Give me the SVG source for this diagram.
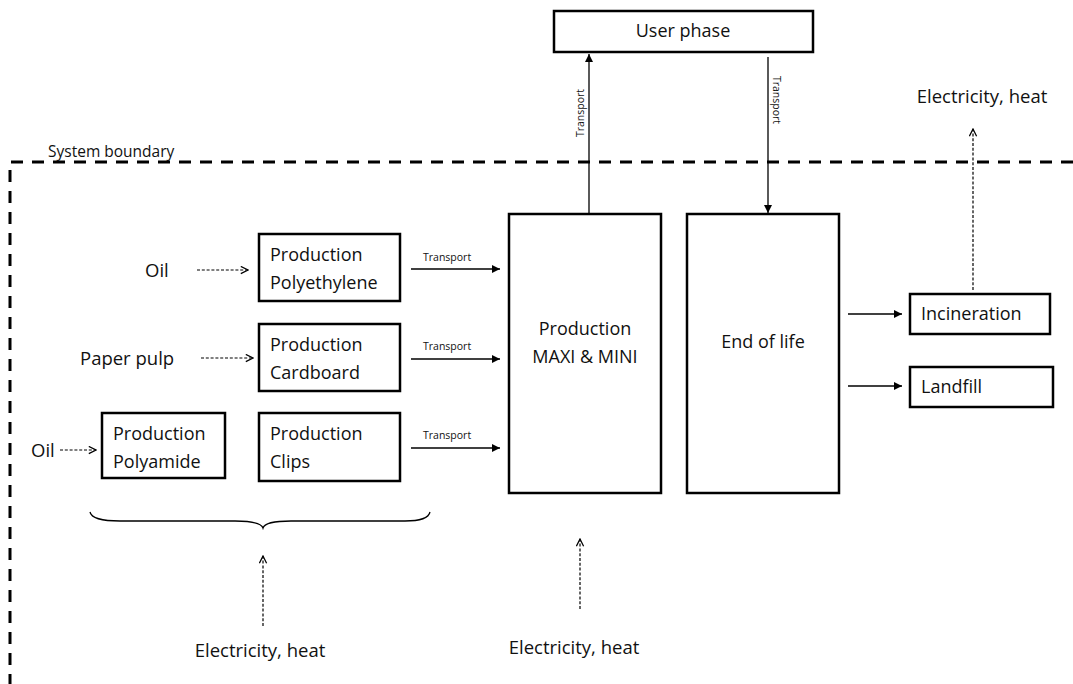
<svg xmlns="http://www.w3.org/2000/svg" width="1073" height="684" viewBox="0 0 1073 684">
  <defs>
    <marker id="solid" viewBox="0 0 10 10" refX="10" refY="5" markerWidth="8" markerHeight="8" markerUnits="userSpaceOnUse" orient="auto">
      <path d="M0,0 L10,5 L0,10 Z" fill="#000"/>
    </marker>
    <marker id="open" viewBox="0 0 10 10" refX="9" refY="5" markerWidth="9" markerHeight="9" markerUnits="userSpaceOnUse" orient="auto">
      <path d="M1,1 L9,5 L1,9" fill="none" stroke="#000" stroke-width="1.4"/>
    </marker>
  </defs>
  <style>
    text { font-family: "Open Sans", "Noto Sans", "Liberation Sans", sans-serif; fill: #111; }
    .lbl { font-size: 18px; }
    .big { font-size: 18.5px; }
    .sm { font-size: 10.5px; }
    .box { fill: #fff; stroke: #000; stroke-width: 2.5; }
    .flow { stroke: #000; stroke-width: 1.3; fill: none; marker-end: url(#solid); }
    .energy { stroke: #000; stroke-width: 1.2; fill: none; stroke-dasharray: 3 1.8; marker-end: url(#open); }
    .boundary { stroke: #000; stroke-width: 3; fill: none; stroke-dasharray: 12 9; }
  </style>
  <rect width="1073" height="684" fill="#fff"/>

  <!-- system boundary -->
  <g id="boundary">
    <path class="boundary" d="M1073,162 H10 V684"/>
    <text x="48" y="157" style="font-size:15.5px">System boundary</text>
  </g>

  <!-- connectors -->
  <g id="connectors">
    <line class="flow" x1="411" y1="269" x2="500" y2="269"/>
    <line class="flow" x1="411" y1="359" x2="500" y2="359"/>
    <line class="flow" x1="411" y1="448" x2="500" y2="448"/>
    <line class="flow" x1="589" y1="213" x2="589" y2="54"/>
    <line class="flow" x1="768" y1="57" x2="768" y2="213"/>
    <line class="flow" x1="848" y1="314" x2="902" y2="314"/>
    <line class="flow" x1="848" y1="386" x2="902" y2="386"/>
    <line class="energy" x1="197" y1="270" x2="248" y2="270"/>
    <line class="energy" x1="201" y1="358" x2="253" y2="358"/>
    <line class="energy" x1="60" y1="450" x2="96" y2="450"/>
    <line class="energy" x1="263" y1="626" x2="263" y2="556"/>
    <line class="energy" x1="580" y1="609" x2="580" y2="539"/>
    <line class="energy" x1="973" y1="290" x2="973" y2="129"/>
    <path d="M90,512 Q92,521 120,521 L235,521 Q261,521 263,528 Q265,521 291,521 L405,521 Q428,521 430,512" fill="none" stroke="#000" stroke-width="1.3"/>
    <text class="sm" x="423" y="261">Transport</text>
    <text class="sm" x="423" y="350">Transport</text>
    <text class="sm" x="423" y="439">Transport</text>
    <text class="sm" transform="translate(584,113) rotate(-90)" text-anchor="middle">Transport</text>
    <text class="sm" transform="translate(773,100) rotate(90)" text-anchor="middle">Transport</text>
  </g>

  <!-- external inputs and outputs -->
  <g id="inputs">
    <text class="big" x="145" y="277">Oil</text>
    <text class="big" x="80" y="365">Paper pulp</text>
    <text class="big" x="31" y="457">Oil</text>
    <text class="big" x="260" y="657" text-anchor="middle">Electricity, heat</text>
    <text class="big" x="574" y="654" text-anchor="middle">Electricity, heat</text>
    <text class="big" x="982" y="103" text-anchor="middle">Electricity, heat</text>
  </g>

  <g id="user-phase">
    <rect class="box" x="554" y="11" width="259" height="41"/>
    <text class="lbl" x="683" y="37" text-anchor="middle">User phase</text>
  </g>

  <g id="prod-polyethylene">
    <rect class="box" x="259" y="234" width="141" height="67"/>
    <text class="lbl" x="270" y="261">Production</text>
    <text class="lbl" x="270" y="289">Polyethylene</text>
  </g>

  <g id="prod-cardboard">
    <rect class="box" x="259" y="324" width="141" height="67"/>
    <text class="lbl" x="270" y="351">Production</text>
    <text class="lbl" x="270" y="379">Cardboard</text>
  </g>

  <g id="prod-clips">
    <rect class="box" x="259" y="413" width="141" height="68"/>
    <text class="lbl" x="270" y="440">Production</text>
    <text class="lbl" x="270" y="468">Clips</text>
  </g>

  <g id="prod-polyamide">
    <rect class="box" x="102" y="413" width="123" height="65"/>
    <text class="lbl" x="113" y="440">Production</text>
    <text class="lbl" x="113" y="468">Polyamide</text>
  </g>

  <g id="prod-maxi-mini">
    <rect class="box" x="509" y="214" width="152" height="279"/>
    <text class="lbl" x="585" y="335" text-anchor="middle">Production</text>
    <text class="lbl" x="585" y="363" text-anchor="middle">MAXI &amp; MINI</text>
  </g>

  <g id="end-of-life">
    <rect class="box" x="687" y="214" width="152" height="279"/>
    <text class="lbl" x="763" y="348" text-anchor="middle">End of life</text>
  </g>

  <g id="incineration">
    <rect class="box" x="910" y="294" width="140" height="40"/>
    <text class="lbl" x="921" y="320">Incineration</text>
  </g>

  <g id="landfill">
    <rect class="box" x="910" y="367" width="143" height="40"/>
    <text class="lbl" x="921" y="393">Landfill</text>
  </g>
</svg>
